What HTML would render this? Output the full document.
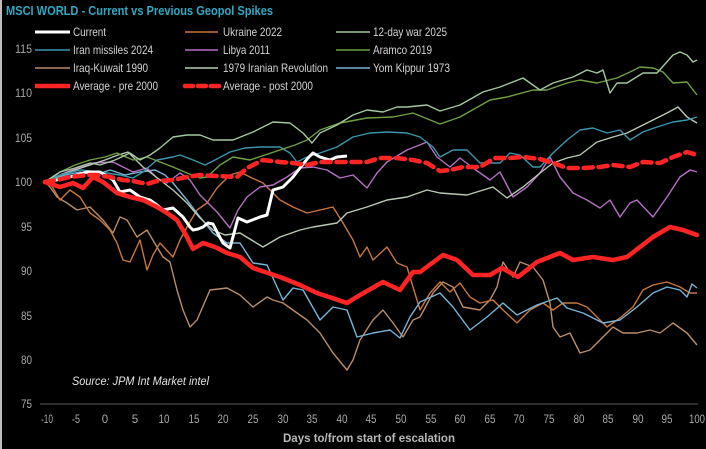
<!DOCTYPE html>
<html><head><meta charset="utf-8"><style>
html,body{margin:0;padding:0;background:#000;}
body{width:706px;height:449px;overflow:hidden;}
svg{display:block;}
text{font-family:"Liberation Sans Narrow","Liberation Sans",sans-serif;}
</style></head><body>
<svg width="706" height="449" viewBox="0 0 706 449" xmlns="http://www.w3.org/2000/svg">
<rect x="0" y="0" width="706" height="449" fill="#000"/>
<rect x="0" y="0" width="2" height="449" fill="#bdbdbd"/>

<!-- title -->
<text x="6" y="15" font-size="13" font-weight="bold" fill="#2fa9c4" textLength="267" lengthAdjust="spacingAndGlyphs">MSCI WORLD - Current vs Previous Geopol Spikes</text>

<!-- legend -->
<g stroke-linecap="butt" fill="none">
<line x1="35" y1="32" x2="70" y2="32" stroke="#fff" stroke-width="3"/>
<line x1="35" y1="50" x2="70" y2="50" stroke="#3b96ad" stroke-width="1.5"/>
<line x1="35" y1="68" x2="70" y2="68" stroke="#b98c6c" stroke-width="1.5"/>
<line x1="35" y1="86" x2="70" y2="86" stroke="#ff2424" stroke-width="4.5"/>
<line x1="185" y1="32" x2="218" y2="32" stroke="#c8763c" stroke-width="1.5"/>
<line x1="185" y1="50" x2="218" y2="50" stroke="#b66fc4" stroke-width="1.5"/>
<line x1="185" y1="68" x2="218" y2="68" stroke="#b9c9b4" stroke-width="1.5"/>
<line x1="185" y1="86" x2="220" y2="86" stroke="#ff2424" stroke-width="4.5" stroke-dasharray="8,5" stroke-linecap="round"/>
<line x1="336" y1="32" x2="370" y2="32" stroke="#a3c7a0" stroke-width="1.5"/>
<line x1="336" y1="50" x2="370" y2="50" stroke="#6fa044" stroke-width="1.5"/>
<line x1="336" y1="68" x2="370" y2="68" stroke="#78b4d6" stroke-width="1.5"/>
</g>
<g font-size="12" fill="#d2d2d2">
<text x="73" y="36" textLength="33" lengthAdjust="spacingAndGlyphs">Current</text>
<text x="73" y="54" textLength="80" lengthAdjust="spacingAndGlyphs">Iran missiles 2024</text>
<text x="73" y="72" textLength="75" lengthAdjust="spacingAndGlyphs">Iraq-Kuwait 1990</text>
<text x="73" y="90" textLength="85" lengthAdjust="spacingAndGlyphs">Average - pre 2000</text>
<text x="223" y="36" textLength="59" lengthAdjust="spacingAndGlyphs">Ukraine 2022</text>
<text x="223" y="54" textLength="47" lengthAdjust="spacingAndGlyphs">Libya 2011</text>
<text x="223" y="72" textLength="105" lengthAdjust="spacingAndGlyphs">1979 Iranian Revolution</text>
<text x="223" y="90" textLength="90" lengthAdjust="spacingAndGlyphs">Average - post 2000</text>
<text x="373" y="36" textLength="74" lengthAdjust="spacingAndGlyphs">12-day war 2025</text>
<text x="373" y="54" textLength="59" lengthAdjust="spacingAndGlyphs">Aramco 2019</text>
<text x="373" y="72" textLength="77" lengthAdjust="spacingAndGlyphs">Yom Kippur 1973</text>
</g>

<!-- y labels -->
<g font-size="11.5" fill="#a8a8a8" text-anchor="end">
<text x="32" y="53" textLength="17" lengthAdjust="spacingAndGlyphs">115</text>
<text x="32" y="97" textLength="17" lengthAdjust="spacingAndGlyphs">110</text>
<text x="32" y="142" textLength="17" lengthAdjust="spacingAndGlyphs">105</text>
<text x="32" y="186" textLength="17" lengthAdjust="spacingAndGlyphs">100</text>
<text x="32" y="231" textLength="11" lengthAdjust="spacingAndGlyphs">95</text>
<text x="32" y="275" textLength="11" lengthAdjust="spacingAndGlyphs">90</text>
<text x="32" y="320" textLength="11" lengthAdjust="spacingAndGlyphs">85</text>
<text x="32" y="364" textLength="11" lengthAdjust="spacingAndGlyphs">80</text>
<text x="32" y="408" textLength="11" lengthAdjust="spacingAndGlyphs">75</text>
</g>

<!-- x axis -->
<line x1="40" y1="404" x2="698" y2="404" stroke="#5a5a5a" stroke-width="1"/>
<g font-size="11.5" fill="#a8a8a8" text-anchor="middle" lengthAdjust="spacingAndGlyphs">
<text x="47" y="423" textLength="12" lengthAdjust="spacingAndGlyphs">-10</text><text x="76" y="423" textLength="8" lengthAdjust="spacingAndGlyphs">-5</text><text x="105" y="423">0</text>
<text x="135" y="423">5</text><text x="164" y="423" textLength="11" lengthAdjust="spacingAndGlyphs">10</text><text x="194" y="423" textLength="11" lengthAdjust="spacingAndGlyphs">15</text>
<text x="223" y="423" textLength="11" lengthAdjust="spacingAndGlyphs">20</text><text x="253" y="423" textLength="11" lengthAdjust="spacingAndGlyphs">25</text><text x="283" y="423" textLength="11" lengthAdjust="spacingAndGlyphs">30</text>
<text x="312" y="423" textLength="11" lengthAdjust="spacingAndGlyphs">35</text><text x="342" y="423" textLength="11" lengthAdjust="spacingAndGlyphs">40</text><text x="371" y="423" textLength="11" lengthAdjust="spacingAndGlyphs">45</text>
<text x="401" y="423" textLength="11" lengthAdjust="spacingAndGlyphs">50</text><text x="431" y="423" textLength="11" lengthAdjust="spacingAndGlyphs">55</text><text x="460" y="423" textLength="11" lengthAdjust="spacingAndGlyphs">60</text>
<text x="490" y="423" textLength="11" lengthAdjust="spacingAndGlyphs">65</text><text x="519" y="423" textLength="11" lengthAdjust="spacingAndGlyphs">70</text><text x="549" y="423" textLength="11" lengthAdjust="spacingAndGlyphs">75</text>
<text x="579" y="423" textLength="11" lengthAdjust="spacingAndGlyphs">80</text><text x="608" y="423" textLength="11" lengthAdjust="spacingAndGlyphs">85</text><text x="638" y="423" textLength="11" lengthAdjust="spacingAndGlyphs">90</text>
<text x="667" y="423" textLength="11" lengthAdjust="spacingAndGlyphs">95</text><text x="697" y="423" textLength="16" lengthAdjust="spacingAndGlyphs">100</text>
</g>
<text x="369" y="442" font-size="12" font-weight="bold" fill="#b8b8b8" text-anchor="middle" textLength="172" lengthAdjust="spacingAndGlyphs">Days to/from start of escalation</text>
<text x="72" y="385" font-size="12" font-style="italic" fill="#e4e4e4" textLength="137" lengthAdjust="spacingAndGlyphs">Source: JPM Int Market intel</text>

<!-- series -->
<g fill="none" stroke-width="1.4" stroke-linejoin="round">
<polyline stroke="#b98c6c" points="45,182 50,187 57,197 67,203 77,210 90,207 103,220 113,233 120,217 127,220 137,237 147,230 157,247 163,257 170,262 177,290 183,310 190,327 197,320 210,290 227,288 240,295 253,307 267,297 273,300 283,303 307,320 320,333 333,353 347,370 353,360 360,340 373,320 383,310 393,323 403,337 413,320 420,317 433,293 443,282 453,287 463,307 480,310 490,300 497,287 503,262 513,277 520,262 533,267 543,280 550,303 553,327 560,337 570,333 580,353 590,350 600,340 613,327 623,333 637,333 650,330 660,333 673,323 687,333 697,345"/>
<polyline stroke="#c8763c" points="45,182 50,183 60,200 70,190 80,197 90,213 100,220 110,230 117,243 123,260 130,262 140,240 147,270 153,255 160,243 173,257 180,240 187,227 197,210 207,203 217,188 230,175 240,172 252,178 263,183 280,200 293,207 307,213 320,210 333,207 343,223 353,240 360,257 367,247 373,260 387,247 397,263 407,267 413,287 420,310 430,293 440,282 450,292 460,283 470,297 480,303 493,300 503,310 517,323 530,310 543,303 553,310 563,303 577,303 587,307 597,317 607,327 620,318 633,307 643,290 653,285 667,282 680,287 690,293 697,293"/>
<polyline stroke="#78b4d6" points="45,182 55,178 65,175 80,172 95,175 110,170 125,175 140,172 155,170 165,175 173,183 187,200 200,217 213,233 227,243 240,243 253,263 267,265 283,300 293,288 303,290 320,320 333,307 347,310 357,337 373,333 390,330 400,338 410,317 420,302 440,293 453,307 470,330 487,317 503,303 517,315 537,305 557,298 567,308 583,313 603,323 620,320 637,307 653,293 667,287 680,290 687,297 692,284 697,288"/>
<polyline stroke="#b66fc4" points="45,182 55,177 67,172 80,167 93,163 113,162 123,167 133,172 147,168 157,178 167,183 180,173 190,180 200,195 217,212 230,228 238,210 247,197 260,187 273,185 287,177 300,168 313,167 327,170 340,178 353,175 367,188 377,173 387,162 407,150 427,142 437,157 450,167 460,158 473,168 490,180 500,172 513,197 527,187 540,173 550,157 560,177 573,193 587,200 600,208 610,200 620,217 630,203 637,200 653,217 667,197 680,177 690,170 697,172"/>
<polyline stroke="#b9c9b4" points="45,182 60,175 75,170 90,165 105,160 118,155 128,152 143,167 160,180 173,190 187,203 200,218 213,230 225,235 240,233 263,247 280,237 300,230 313,227 337,223 347,213 367,207 387,200 407,197 427,190 440,193 467,195 493,187 507,198 523,187 540,173 553,163 567,158 580,155 597,142 613,137 627,133 647,123 667,113 678,107 687,117 697,123"/>
<polyline stroke="#3b96ad" points="45,182 60,175 80,170 100,172 120,175 133,178 143,172 157,160 173,157 180,155 193,160 205,165 215,160 230,152 245,148 260,147 280,147 290,153 297,162 307,157 320,153 337,147 353,137 370,133 387,132 407,133 420,137 433,147 440,157 453,150 467,150 480,163 500,163 510,153 520,155 533,167 540,167 553,153 567,140 580,130 593,128 607,133 620,130 630,140 643,132 657,127 673,122 687,120 697,117"/>
<polyline stroke="#6fa044" points="45,182 60,172 75,165 90,160 105,157 117,153 133,160 147,157 160,162 173,167 187,173 200,178 207,177 220,165 233,157 250,160 265,155 280,150 295,145 307,140 320,130 340,123 367,118 393,117 413,113 440,124 460,117 490,100 507,97 533,90 547,90 567,83 580,80 597,83 617,78 630,72 640,67 653,68 663,72 673,83 687,82 697,95"/>
<polyline stroke="#a3c7a0" points="45,182 60,172 75,168 90,163 100,165 115,160 130,153 140,160 150,155 160,148 173,137 187,135 200,135 213,140 233,140 253,132 273,122 290,123 303,133 312,143 320,133 337,125 353,115 367,110 383,112 397,107 407,107 427,105 440,111 460,105 483,92 500,87 523,78 540,90 553,83 573,77 587,70 597,73 603,70 610,93 617,83 627,83 643,73 657,73 673,55 680,52 687,55 693,62 697,60"/>
</g>

<polyline fill="none" stroke="#ffffff" stroke-width="3" stroke-linejoin="round" points="45,182 50,182 60,179 70,177 80,174 87,172 100,172 107,176 113,180 120,192 130,190 140,197 150,200 157,205 163,210 173,208 183,217 190,227 193,230 198,229 203,227 208,223 213,224 218,234 223,243 230,248 238,218 247,222 260,217 267,215 273,190 283,187 293,177 300,168 308,158 313,153 320,157 330,160 337,157 347,156"/>

<polyline fill="none" stroke="#ff2424" stroke-width="4.5" stroke-dasharray="9,6" stroke-linecap="round" stroke-linejoin="round" points="45,182 57,180 70,177 87,175 97,175 110,177 123,180 133,181 147,184 157,181 173,180 187,177 200,175 217,176 237,177 247,168 263,160 280,162 293,163 307,165 320,162 333,162 350,162 367,162 380,158 397,158 413,160 427,163 440,171 450,170 463,167 480,167 495,158 510,158 523,157 540,159 553,163 567,168 583,168 600,167 613,165 630,167 643,162 660,163 673,157 687,152 697,155"/>

<polyline fill="none" stroke="#ff2424" stroke-width="4.5" stroke-linejoin="round" stroke-linecap="round" points="45,182 60,187 73,183 83,188 93,177 103,182 117,193 130,197 143,200 157,207 167,213 177,220 187,237 193,249 203,243 215,247 227,253 240,257 253,268 280,277 300,285 317,293 347,303 360,295 383,282 400,290 413,272 420,272 443,255 457,260 473,275 490,275 502,268 518,277 537,262 560,253 573,260 593,257 613,260 627,257 653,237 670,227 683,230 697,235"/>
</svg>
</body></html>
